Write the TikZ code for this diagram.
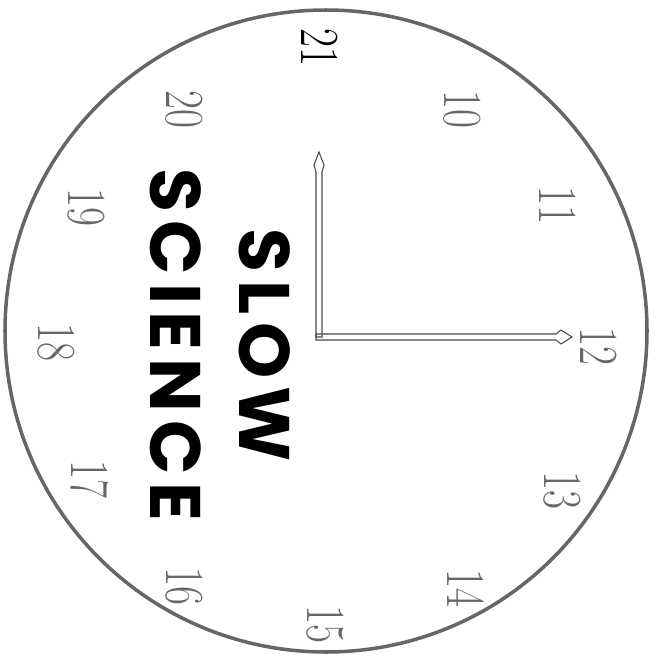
\documentclass[tikz,border=0pt]{standalone}
\usepackage{fontspec}
\usepackage{graphicx}
\newfontfamily\slowfont[LetterSpace=11]{Poppins}
\usepackage{tikz}

\begin{document}
\begin{tikzpicture}[x=0.03cm,y=-0.03cm]
	\useasboundingbox (0,0) rectangle (663,663);
	\draw[black!60, line width=3] (326,331) circle[radius=321];
	\coordinate (pivot) at (319,337);
	\draw[black!70, line width=0.9pt] (316,337) -- (316,172) -- (314,165) -- (319,152) -- (324,165) -- (322,172) -- (322,337) -- cycle;
	\draw[black!70, line width=0.9pt] (316,334) -- (556,334) -- (561,330) -- (572,337) -- (561,344) -- (556,340) -- (316,340) -- cycle;
	\foreach \h/\x/\y in {10/462/109, 11/558/205, 12/599/346, 13/562/490, 14/466/588, 15/325/624, 16/184/586, 17/90/479, 18/56/342, 19/86/207, 20/184/109} {
		\draw (\x,\y) node[rotate=-90, text=black!60, font=\fontsize{47}{52}\selectfont] (h\h) {\scalebox{0.75}[1]{\h}};
	}
	\draw (320,47) node[rotate=-90, font=\fontsize{47}{52}\selectfont] (h21) {\scalebox{0.75}[1]{21}};
	\draw (265,345) node[rotate=-90, font=\slowfont\bfseries\fontsize{61}{70}\selectfont] (slow) {SLOW};
	\draw (176,345) node[rotate=-90, font=\slowfont\bfseries\fontsize{61}{70}\selectfont] (science) {SCIENCE};
\end{tikzpicture}
\end{document}
